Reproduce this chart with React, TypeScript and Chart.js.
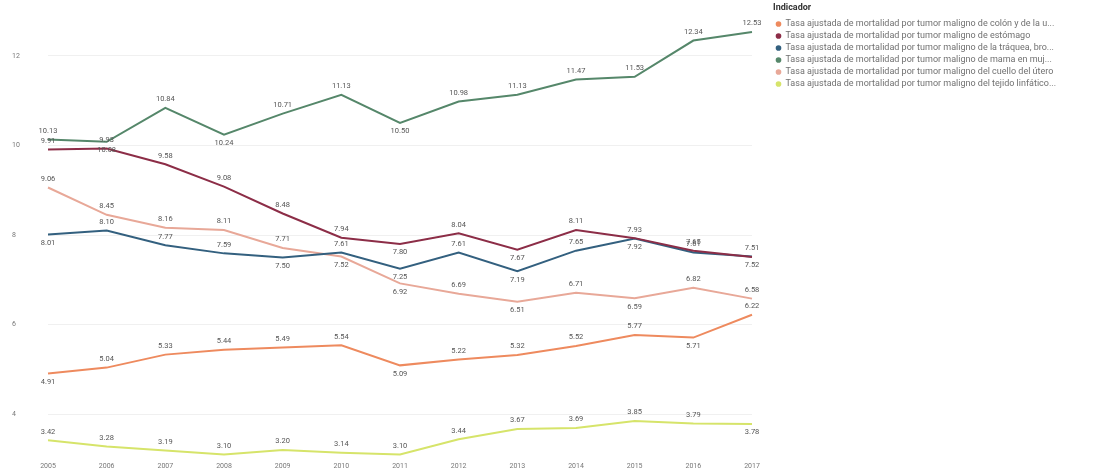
import React, { useEffect, useRef } from 'react';
import { Chart, registerables } from 'chart.js';

Chart.register(...registerables);

const years = ['2005', '2006', '2007', '2008', '2009', '2010', '2011', '2012', '2013', '2014', '2015', '2016', '2017'];

const seriesNames = [
  'Tasa ajustada de mortalidad por tumor maligno de colón y de la u...',
  'Tasa ajustada de mortalidad por tumor maligno de estómago',
  'Tasa ajustada de mortalidad por tumor maligno de la tráquea, bro...',
  'Tasa ajustada de mortalidad por tumor maligno de mama en muj...',
  'Tasa ajustada de mortalidad por tumor maligno del cuello del útero',
  'Tasa ajustada de mortalidad por tumor maligno del tejido linfático...',
];

const colonValues = [4.91, 5.04, 5.33, 5.44, 5.49, 5.54, 5.09, 5.22, 5.32, 5.52, 5.77, 5.71, 6.22];
const estomagoValues = [9.91, 9.93, 9.58, 9.08, 8.48, 7.94, 7.80, 8.04, 7.67, 8.11, 7.93, 7.65, 7.51];
const traqueaValues = [8.01, 8.10, 7.77, 7.59, 7.50, 7.61, 7.25, 7.61, 7.19, 7.65, 7.92, 7.61, 7.52];
const mamaValues = [10.13, 10.08, 10.84, 10.24, 10.71, 11.13, 10.50, 10.98, 11.13, 11.47, 11.53, 12.34, 12.53];
const uteroValues = [9.06, 8.45, 8.16, 8.11, 7.71, 7.52, 6.92, 6.69, 6.51, 6.71, 6.59, 6.82, 6.58];
const linfaticoValues = [3.42, 3.28, 3.19, 3.10, 3.20, 3.14, 3.10, 3.44, 3.67, 3.69, 3.85, 3.79, 3.78];

const yTicks = [4, 6, 8, 10, 12];

// label placement: 'a' = above the point, 'b' = below
const colonPlace = ['b', 'a', 'a', 'a', 'a', 'a', 'b', 'a', 'a', 'a', 'a', 'b', 'a'];
const estomagoPlace = ['a', 'a', 'a', 'a', 'a', 'a', 'b', 'a', 'b', 'a', 'a', 'a', 'a'];
const traqueaPlace = ['b', 'a', 'a', 'a', 'b', 'a', 'b', 'a', 'b', 'a', 'b', 'a', 'b'];
const mamaPlace = ['a', 'b', 'a', 'b', 'a', 'a', 'b', 'a', 'a', 'a', 'a', 'a', 'a'];
const uteroPlace = ['a', 'a', 'a', 'a', 'a', 'b', 'b', 'a', 'b', 'a', 'b', 'a', 'a'];
const linfaticoPlace = ['a', 'a', 'a', 'a', 'a', 'a', 'a', 'a', 'a', 'a', 'a', 'a', 'b'];

const seriesValues = [colonValues, estomagoValues, traqueaValues, mamaValues, uteroValues, linfaticoValues];
const seriesPlace = [colonPlace, estomagoPlace, traqueaPlace, mamaPlace, uteroPlace, linfaticoPlace];
const seriesColors = ['#EE8A5E', '#8C2D47', '#33607F', '#55876A', '#E8A898', '#D6E46A'];

const FONT = 'Roboto, "Segoe UI", Arial, sans-serif';
const W = 1097;
const H = 474;
const LEGEND_LEFT = 773;
const LEGEND_FONT = 9;

const pointLabelPlugin = {
  id: 'pointLabels',
  afterDatasetsDraw(chart: any) {
    const ctx = chart.ctx;
    ctx.save();
    ctx.font = `7.5px ${FONT}`;
    ctx.fillStyle = '#555555';
    ctx.textAlign = 'center';
    ctx.textBaseline = 'middle';
    chart.data.datasets.forEach((ds: any, di: number) => {
      const meta = chart.getDatasetMeta(di);
      meta.data.forEach((pt: any, i: number) => {
        const v = ds.data[i] as number;
        const dy = seriesPlace[di][i] === 'a' ? -8.5 : 8.5;
        ctx.fillText(v.toFixed(2), pt.x, pt.y + dy);
      });
    });
    ctx.restore();
  },
};

export default function App() {
  const ref = useRef<HTMLCanvasElement>(null);

  useEffect(() => {
    if (!ref.current) return;
    const mctx = document.createElement('canvas').getContext('2d')!;
    mctx.font = `${LEGEND_FONT}px ${FONT}`;
    const textW = Math.max(...seriesNames.map((n) => mctx.measureText(n).width));
    const legendW = 3 + 5 + LEGEND_FONT / 2 + textW + 10;
    const padRight = Math.max(0, W - LEGEND_LEFT - legendW);

    const chart = new Chart(ref.current, {
      type: 'line',
      data: {
        labels: years,
        datasets: seriesNames.map((name, i) => ({
          label: name,
          data: seriesValues[i],
          borderColor: seriesColors[i],
          backgroundColor: seriesColors[i],
          borderWidth: 2,
          pointRadius: 0,
          pointHoverRadius: 0,
          tension: 0,
          fill: false,
        })),
      },
      options: {
        animation: false,
        responsive: false,
        devicePixelRatio: 1,
        layout: { padding: { left: 12, right: padRight, top: 0, bottom: 0 } },
        plugins: {
          tooltip: { enabled: false },
          legend: {
            display: true,
            position: 'right',
            align: 'start',
            maxWidth: 600,
            title: {
              display: true,
              text: 'Indicador',
              position: 'start',
              color: '#333333',
              font: { family: FONT, size: 9, weight: 'bold' },
              padding: { top: 3.5, bottom: 2.2, left: 0, right: 0 },
            },
            labels: {
              usePointStyle: true,
              pointStyle: 'circle',
              boxWidth: 5,
              boxHeight: 4,
              padding: 3,
              color: '#707070',
              font: { family: FONT, size: LEGEND_FONT },
              generateLabels: (c: any) =>
                (Chart.defaults.plugins.legend.labels.generateLabels as any)(c).map((l: any) => ({
                  ...l,
                  lineWidth: 0,
                })),
            },
          },
        },
        scales: {
          x: {
            type: 'category',
            offset: false,
            grid: { display: false, drawTicks: false },
            border: { display: false },
            ticks: {
              color: '#777777',
              font: { family: FONT, size: 7 },
              padding: 3,
              maxRotation: 0,
              autoSkip: false,
            },
            afterFit: (s: any) => {
              s.height = 15;
            },
          },
          xTop: {
            type: 'linear',
            position: 'top',
            display: true,
            grid: { display: false, drawTicks: false },
            border: { display: false },
            ticks: { display: false },
            afterFit: (s: any) => {
              s.height = 11;
            },
          },
          y: {
            type: 'linear',
            position: 'left',
            min: 3,
            max: 13,
            grid: { color: '#f0f0f0', drawTicks: false, lineWidth: 1 },
            border: { display: false },
            ticks: {
              color: '#777777',
              font: { family: FONT, size: 7 },
              padding: 0,
              crossAlign: 'far',
            },
            afterBuildTicks: (s: any) => {
              s.ticks = yTicks.map((v) => ({ value: v }));
            },
            afterFit: (s: any) => {
              s.width = 36;
            },
          },
          yRight: {
            type: 'linear',
            position: 'right',
            display: true,
            grid: { display: false, drawTicks: false },
            border: { display: false },
            ticks: { display: false },
            afterFit: (s: any) => {
              s.width = 21;
            },
          },
        },
      } as any,
      plugins: [pointLabelPlugin],
    });
    return () => chart.destroy();
  }, []);

  return (
    <div style={{ position: 'fixed', left: 0, top: 0, width: W, height: H, background: '#ffffff' }}>
      <canvas ref={ref} width={W} height={H} />
    </div>
  );
}
